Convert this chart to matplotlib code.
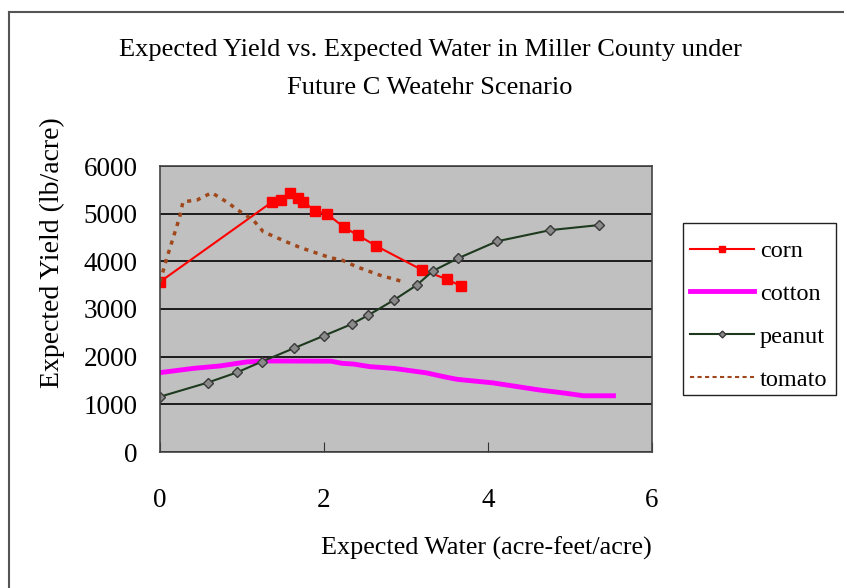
import matplotlib
matplotlib.use("Agg")
import matplotlib.pyplot as plt
from matplotlib.lines import Line2D
from matplotlib.patches import Rectangle

plt.rcParams["font.family"] = ["Liberation Serif", "DejaVu Serif"]

# water (acre-feet/acre) vs yield (lb/acre)
corn_x = [0.0, 1.37, 1.48, 1.58, 1.68, 1.75, 1.89, 2.04, 2.24, 2.41, 2.64, 3.20, 3.50, 3.67]
corn_y = [3570, 5250, 5285, 5430, 5320, 5250, 5060, 4990, 4720, 4550, 4320, 3815, 3625, 3480]

cotton_x = [0.0, 0.41, 0.73, 1.06, 1.30, 2.09, 2.22, 2.36, 2.56, 2.85, 3.25, 3.46, 3.62, 4.06, 4.63, 4.96, 5.16, 5.53]
cotton_y = [1665, 1755, 1805, 1890, 1910, 1905, 1860, 1845, 1790, 1755, 1660, 1580, 1525, 1450, 1300, 1230, 1180, 1180]

peanut_x = [0.0, 0.58, 0.94, 1.24, 1.63, 2.0, 2.34, 2.54, 2.85, 3.13, 3.33, 3.63, 4.11, 4.76, 5.35]
peanut_y = [1160, 1455, 1670, 1895, 2175, 2440, 2685, 2870, 3185, 3500, 3800, 4060, 4420, 4655, 4760]

tomato_x = [0.0, 0.08, 0.24, 0.28, 0.45, 0.63, 0.81, 0.98, 1.14, 1.26, 1.54, 1.71, 2.07, 2.22, 2.40, 2.68, 2.99]
tomato_y = [3570, 4050, 4930, 5250, 5285, 5440, 5250, 5040, 4860, 4620, 4410, 4290, 4080, 4025, 3885, 3710, 3560]

W, H = 845, 588
fig = plt.figure(figsize=(W / 100, H / 100), dpi=100)
ax = fig.add_axes([160 / W, 136 / H, 492 / W, 286 / H])
ax.set_facecolor("#c0c0c0")

ax.plot(corn_x, corn_y, color="#ff0000", lw=1.5, marker="s", ms=6.5, label="corn")
ax.plot(cotton_x, cotton_y, color="#ff00ff", lw=3.5, label="cotton")
ax.plot(peanut_x, peanut_y, color="#1e3a1e", lw=1.5, marker="D", ms=5,
        mfc="#8a8a8a", mec="#3a3a3a", mew=1, label="peanut")
ax.plot(tomato_x, tomato_y, color="#a0481c", lw=2.5, ls=(0, (1.2, 1.6)), label="tomato")

ax.set_xlim(0, 6)
ax.set_ylim(0, 6000)
ax.set_xticks([0, 2, 4, 6])
ax.set_yticks(range(0, 7000, 1000))
ax.yaxis.grid(True, color="black", lw=1.2)
ax.set_axisbelow(True)
ax.tick_params(axis="x", direction="in", length=7, labelsize=19.5, pad=26, color="#333333")
ax.tick_params(axis="y", length=0, labelsize=19.5, pad=16)
for s in ax.spines.values():
    s.set_color("#444444")
    s.set_linewidth(1.2)

fig.text(0.509, 1 - 50 / H, "Expected Yield vs. Expected Water in Miller County under",
         ha="center", va="center", fontsize=19)
fig.text(0.509, 1 - 88 / H, "Future C Weatehr Scenario", ha="center", va="center", fontsize=19)
fig.text(486 / W, 1 - 548 / H, "Expected Water (acre-feet/acre)",
         ha="center", va="center", fontsize=18.8)
fig.text(52 / W, 1 - 253 / H, "Expected Yield (lb/acre)", rotation=90,
         ha="center", va="center", fontsize=20)

# legend box drawn separately so the frame matches the original
fig.add_artist(Rectangle((683 / W, 1 - 395 / H), 153 / W, 172 / H, transform=fig.transFigure,
                         facecolor="white", edgecolor="#222222", lw=1.0))
handles, labels = ax.get_legend_handles_labels()
leg = fig.legend(handles, labels, loc="upper left", bbox_to_anchor=(690 / W, 1 - 240 / H),
                 fontsize=17.5, frameon=False, handlelength=2.65,
                 handletextpad=0.22, labelspacing=0.86, borderpad=0, borderaxespad=0,
                 markerscale=0.7)
leg.set_zorder(5)
leg.legend_handles[3].set_linestyle((0, (2.0, 1.6)))
leg.legend_handles[3].set_linewidth(1.5)

# outer chart frame (left and top edges visible)
fig.add_artist(Line2D([9 / W, 9 / W], [0, 1 - 12 / H], color="#555555", lw=1.5))
fig.add_artist(Line2D([9 / W, 1], [1 - 12 / H, 1 - 12 / H], color="#555555", lw=1.5))

fig.savefig("out.png", dpi=100)
